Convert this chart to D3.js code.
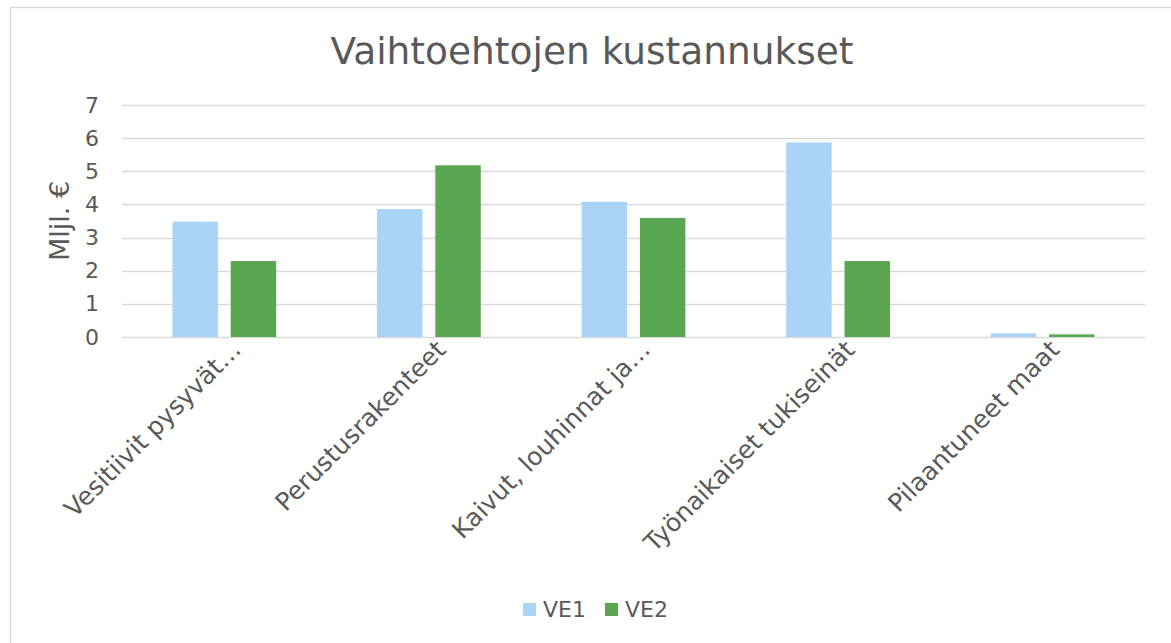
<!DOCTYPE html>
<html>
<head>
<meta charset="utf-8">
<script src="https://cdn.jsdelivr.net/npm/d3@7"></script>
<style>
  html, body { margin: 0; padding: 0; background: #fff; }
  svg { display: block; }
  text { font-family: "DejaVu Sans", Verdana, sans-serif; fill: #595959; }
</style>
</head>
<body>
<div id="chart"></div>
<script>
// Cost breakdown per alternative, million euros
const categories = [
  "Vesitiivit pysyvät…",
  "Perustusrakenteet",
  "Kaivut, louhinnat ja…",
  "Työnaikaiset tukiseinät",
  "Pilaantuneet maat"
];
const seriesNames = ["VE1", "VE2"];
const ve1 = [3.48, 3.86, 4.08, 5.87, 0.11];
const ve2 = [2.29, 5.18, 3.59, 2.29, 0.08];
const yTicks = [0, 1, 2, 3, 4, 5, 6, 7];
const colors = ["#A9D4F5", "#5BA651"];

const W = 1171, H = 643;
const plot = { left: 122, right: 1145, top: 105, bottom: 337 };

const svg = d3.select("#chart").append("svg")
  .attr("width", W).attr("height", H);

// chart frame
svg.append("rect")
  .attr("x", 10.5).attr("y", 7.5)
  .attr("width", W + 20).attr("height", H + 20)
  .attr("fill", "#fff")
  .attr("stroke", "#D9D9D9").attr("stroke-width", 1.5);

const x = d3.scaleBand().domain(categories).range([plot.left, plot.right]).padding(0);
const groupW = x.bandwidth() * 0.507;
const xs = d3.scaleBand().domain(seriesNames).range([0, groupW]).paddingInner(0.22).paddingOuter(0);
const y = d3.scaleLinear().domain([0, 7]).range([plot.bottom, plot.top]);

// gridlines
svg.append("g")
  .selectAll("line").data(yTicks).join("line")
  .attr("x1", plot.left).attr("x2", plot.right)
  .attr("y1", d => Math.round(y(d)) + 0.5).attr("y2", d => Math.round(y(d)) + 0.5)
  .attr("stroke", "#D9D9D9").attr("stroke-width", 1.5);

// y axis labels
const yAxis = d3.axisLeft(y).tickValues(yTicks).tickFormat(d3.format("d"))
  .tickSize(0).tickPadding(0);
const yg = svg.append("g").attr("transform", `translate(99,0)`).call(yAxis);
yg.select(".domain").remove();
yg.selectAll("text")
  .style("font-family", '"DejaVu Sans", Verdana, sans-serif')
  .style("font-size", "22px").attr("fill", "#595959");

// bars
const data = categories.map((c, i) => ({ c, vals: [ve1[i], ve2[i]] }));
const groups = svg.append("g").selectAll("g").data(data).join("g")
  .attr("transform", d => `translate(${x(d.c) + (x.bandwidth() - groupW) / 2},0)`);
groups.selectAll("rect")
  .data(d => d.vals.map((v, k) => ({ v, s: seriesNames[k], k })))
  .join("rect")
  .attr("x", d => xs(d.s))
  .attr("width", xs.bandwidth())
  .attr("y", d => y(d.v))
  .attr("height", d => y(0) - y(d.v))
  .attr("fill", d => colors[d.k]);

// category labels
const xAxis = d3.axisBottom(x).tickSize(0).tickPadding(0);
const xg = svg.append("g").attr("transform", `translate(0,${plot.bottom})`).call(xAxis);
xg.select(".domain").remove();
xg.selectAll("text")
  .style("font-family", '"DejaVu Sans", Verdana, sans-serif')
  .style("font-size", "25px").attr("fill", "#595959")
  .attr("text-anchor", "end")
  .attr("dy", "0.35em")
  .attr("transform", "translate(12,8) rotate(-45)");

// title
svg.append("text")
  .attr("x", 592).attr("y", 64)
  .attr("text-anchor", "middle")
  .style("font-size", "37.5px")
  .text("Vaihtoehtojen kustannukset");

// y axis title
svg.append("text")
  .attr("transform", `translate(60,221) rotate(-90)`)
  .attr("text-anchor", "middle")
  .attr("dy", "0.35em")
  .style("font-size", "27px")
  .text("Mljl. €");

// legend
const legend = svg.append("g").attr("transform", "translate(523,603)");
const items = legend.selectAll("g").data(seriesNames).join("g")
  .attr("transform", (d, i) => `translate(${i * 82},0)`);
items.append("rect").attr("width", 13).attr("height", 13)
  .attr("fill", (d, i) => colors[i]);
items.append("text").attr("x", 20).attr("y", 13.5)
  .style("font-size", "22px")
  .text(d => d);
</script>
</body>
</html>
